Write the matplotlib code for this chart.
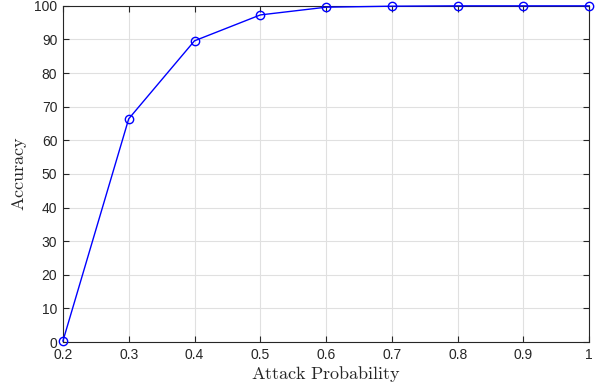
import matplotlib
matplotlib.use("Agg")
import matplotlib.pyplot as plt

attack_prob = [0.2, 0.3, 0.4, 0.5, 0.6, 0.7, 0.8, 0.9, 1.0]
accuracy = [0.3, 66.4, 89.6, 97.3, 99.6, 99.9, 100.0, 100.0, 100.0]
x_ticks = [0.2, 0.3, 0.4, 0.5, 0.6, 0.7, 0.8, 0.9, 1.0]
x_tick_labels = ["0.2", "0.3", "0.4", "0.5", "0.6", "0.7", "0.8", "0.9", "1"]
y_ticks = list(range(0, 101, 10))

plt.rcParams['mathtext.fontset'] = 'cm'
plt.rcParams['font.family'] = ['Liberation Sans', 'DejaVu Sans']

fig = plt.figure(figsize=(6.05, 3.9), dpi=100)
ax = fig.add_axes([0.104, 0.123, 0.870, 0.862])
ax.plot(attack_prob, accuracy, color='#0000ff', lw=1.0, marker='o', ms=6,
        mfc='none', mec='#0000ff', mew=1.0, clip_on=False, zorder=3)
ax.set_xlim(0.2, 1.0)
ax.set_ylim(0, 100)
ax.set_xticks(x_ticks)
ax.set_xticklabels(x_tick_labels)
ax.set_yticks(y_ticks)
ax.grid(True, color='#e0e0e0', lw=0.8)
ax.set_axisbelow(True)
ax.tick_params(direction='in', length=4, width=0.8, colors='#262626',
               labelsize=10, top=True, right=True, pad=4)
for s in ax.spines.values():
    s.set_color('#262626')
    s.set_linewidth(0.8)
ax.set_xlabel(r'$\mathrm{Attack\ Probability}$', fontsize=13, color='#262626', labelpad=2)
ax.set_ylabel(r'$\mathrm{Accuracy}$', fontsize=13, color='#262626', labelpad=4)
fig.savefig('out.png', dpi=100)
